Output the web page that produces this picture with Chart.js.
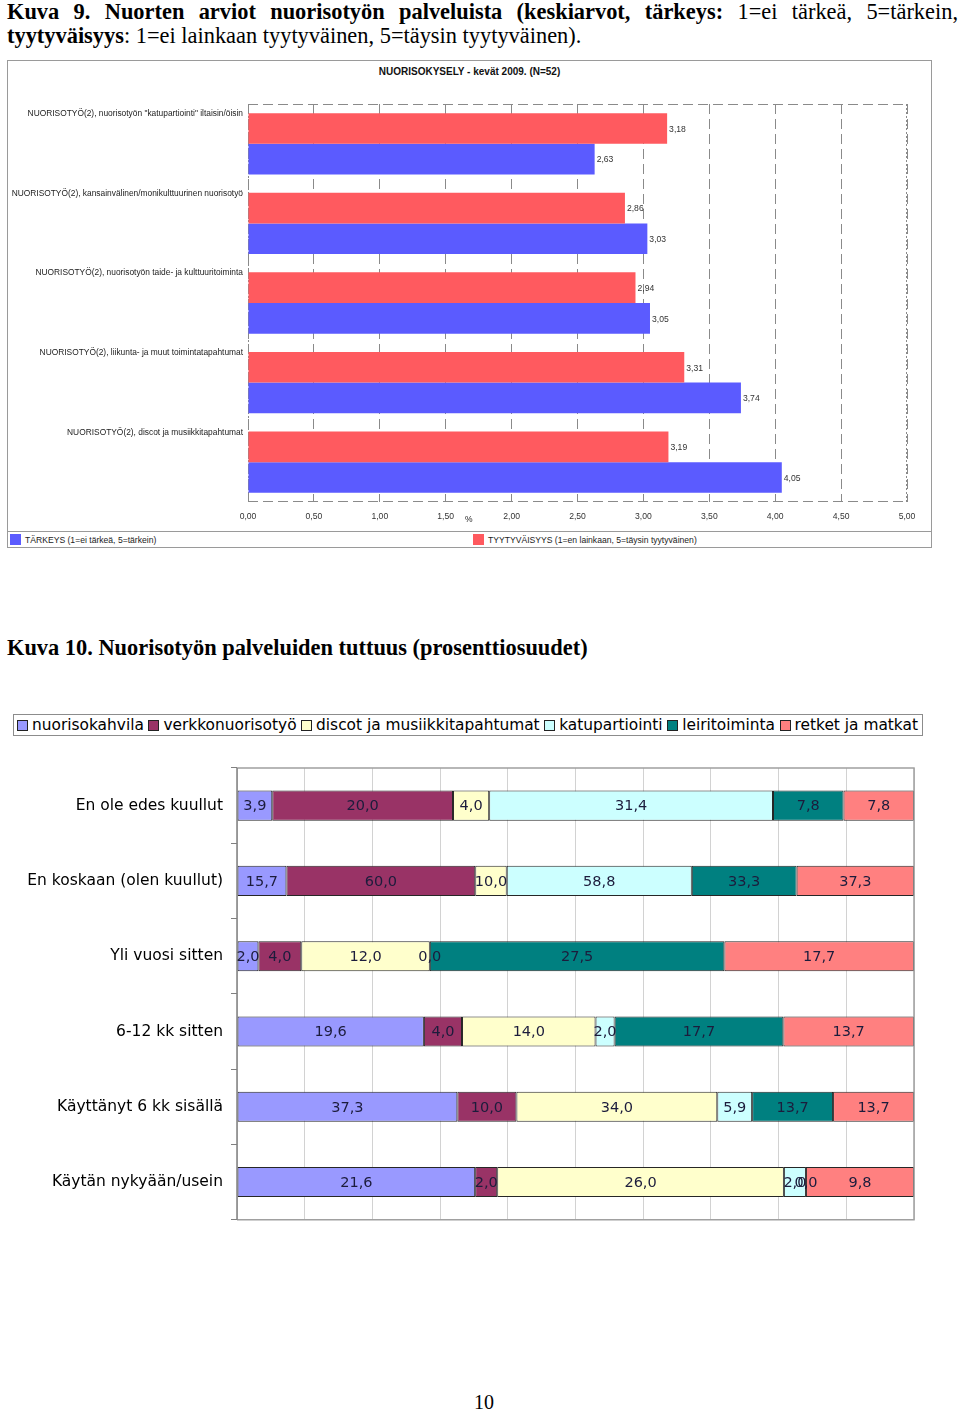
<!DOCTYPE html>
<html><head><meta charset="utf-8">
<script src="https://cdn.jsdelivr.net/npm/chart.js@4.4.1/dist/chart.umd.min.js"></script>
<style>
body{margin:0;background:#fff;}
#page{position:relative;width:960px;height:1412px;overflow:hidden;background:#fff;}
.serif{font-family:'Liberation Serif','Times New Roman',serif;font-size:22.4px;color:#000;}
.narrow{font-family:'Liberation Sans',Arial,sans-serif;color:#222;}
.abs{position:absolute;}
#leg2{position:absolute;left:13px;top:714px;width:910px;height:22px;box-sizing:border-box;border:1px solid #8c8c8c;display:flex;justify-content:space-between;align-items:center;padding:0 4px 0 3px;font-family:'DejaVu Sans',Verdana,sans-serif;font-size:15.4px;color:#000;}
#leg2 .it{display:flex;align-items:center;white-space:nowrap;}
#leg2 .sw{width:9px;height:9px;border:1px solid #222;margin-right:4px;}
</style></head><body>
<div id="page">
  <div class="serif abs" style="left:7px;top:0;width:951px;line-height:24px;text-align:justify;"><b>Kuva 9. Nuorten arviot nuorisotyön palveluista (keskiarvot, tärkeys:</b> 1=ei tärkeä, 5=tärkein, <b>tyytyväisyys</b>: 1=ei lainkaan tyytyväinen, 5=täysin tyytyväinen).</div>

  <div class="abs" style="left:7px;top:60px;width:925px;height:488px;box-sizing:border-box;border:1px solid #9a9a9a;"></div>
  <div class="abs narrow" style="left:7px;top:66px;width:925px;text-align:center;font-size:10px;font-weight:bold;color:#111;">NUORISOKYSELY - kevät 2009. (N=52)</div>
  <canvas id="c1" class="abs" width="923" height="470" style="left:8px;top:61px;"></canvas>
  <div class="abs narrow" style="left:465px;top:514px;font-size:8.5px;">%</div>
  <div class="abs" style="left:8px;top:531px;width:923px;border-top:1px solid #9a9a9a;"></div>
  <div id="leg1"></div>

  <div class="serif abs" style="left:7px;top:636px;line-height:24px;"><b>Kuva 10. Nuorisotyön palveluiden tuttuus (prosenttiosuudet)</b></div>
  <div id="leg2"></div>
  <canvas id="c2" class="abs" width="960" height="487" style="left:0;top:750px;"></canvas>

  <div class="serif abs" style="left:0;top:1390px;width:968px;text-align:center;line-height:24px;font-size:20px;">10</div>
</div>
<script>
// ---------- Chart 1 data ----------
const cats1 = [
  'NUORISOTYÖ(2), nuorisotyön "katupartiointi" iltaisin/öisin',
  'NUORISOTYÖ(2), kansainvälinen/monikulttuurinen nuorisotyö',
  'NUORISOTYÖ(2), nuorisotyön taide- ja kulttuuritoiminta',
  'NUORISOTYÖ(2), liikunta- ja muut toimintatapahtumat',
  'NUORISOTYÖ(2), discot ja musiikkitapahtumat'
];
const seriesNames1 = ['TYYTYVÄISYYS (1=en lainkaan, 5=täysin tyytyväinen)', 'TÄRKEYS (1=ei tärkeä, 5=tärkein)'];
const tyytyvaisyys = [3.18, 2.86, 2.94, 3.31, 3.19];
const tarkeys = [2.63, 3.03, 3.05, 3.74, 4.05];
const colors1 = ['#ff5a5f', '#5b5bff'];

// ---------- Chart 2 data ----------
const cats2 = ['En ole edes kuullut','En koskaan (olen kuullut)','Yli vuosi sitten','6-12 kk sitten','Käyttänyt 6 kk sisällä','Käytän nykyään/usein'];
const seriesNames2 = ['nuorisokahvila','verkkonuorisotyö','discot ja musiikkitapahtumat','katupartiointi','leiritoiminta','retket ja matkat'];
const nuorisokahvila   = [3.9, 15.7, 2.0, 19.6, 37.3, 21.6];
const verkkonuorisotyo = [20.0, 60.0, 4.0, 4.0, 10.0, 2.0];
const discot           = [4.0, 10.0, 12.0, 14.0, 34.0, 26.0];
const katupartiointi   = [31.4, 58.8, 0.0, 2.0, 5.9, 2.0];
const leiritoiminta    = [7.8, 33.3, 27.5, 17.7, 13.7, 0.0];
const retket           = [7.8, 37.3, 17.7, 13.7, 13.7, 9.8];
const colors2 = ['#9999ff','#993366','#ffffcc','#ccffff','#008080','#ff8080'];

const SMALL = "'Liberation Sans',Arial,sans-serif";
const VERD = "'DejaVu Sans',Verdana,sans-serif";

// ---------- legend 1 ----------
(function(){
  const leg = document.getElementById('leg1');
  const items = [{name:seriesNames1[1], color:colors1[1], x:10},{name:seriesNames1[0], color:colors1[0], x:473}];
  items.forEach(it=>{
    const sw = document.createElement('div');
    sw.className='abs'; sw.style.cssText=`left:${it.x}px;top:534px;width:11px;height:11px;background:${it.color};`;
    leg.appendChild(sw);
    const t = document.createElement('div');
    t.className='abs narrow'; t.style.cssText=`left:${it.x+15}px;top:534px;font-size:8.6px;line-height:12px;`;
    t.textContent = it.name; leg.appendChild(t);
  });
})();

// ---------- legend 2 ----------
(function(){
  const leg = document.getElementById('leg2');
  seriesNames2.forEach((n,i)=>{
    const it=document.createElement('div'); it.className='it';
    const sw=document.createElement('div'); sw.className='sw'; sw.style.background=colors2[i];
    const t=document.createElement('span'); t.textContent=n;
    it.appendChild(sw); it.appendChild(t); leg.appendChild(it);
  });
})();

const fmt = (v,d)=>v.toFixed(d).replace('.',',');

// ---------- Chart 1 ----------
const frame1 = {
  id:'frame1',
  beforeDatasetsDraw(chart){
    const {ctx, chartArea:a} = chart;
    ctx.save(); ctx.strokeStyle='#8a8a8a'; ctx.lineWidth=1;
    ctx.setLineDash([10,5]);
    ctx.beginPath(); ctx.moveTo(a.left,a.top+0.5); ctx.lineTo(a.right,a.top+0.5);
    ctx.moveTo(a.left,a.bottom-0.5); ctx.lineTo(a.right,a.bottom-0.5); ctx.stroke();
    ctx.setLineDash([2,2]);
    ctx.beginPath(); ctx.moveTo(a.left+0.5,a.top); ctx.lineTo(a.left+0.5,a.bottom);
    ctx.moveTo(a.right-0.5,a.top); ctx.lineTo(a.right-0.5,a.bottom); ctx.stroke();
    ctx.restore();
  }
};
const labels1 = {
  id:'labels1',
  afterDatasetsDraw(chart){
    const ctx = chart.ctx; ctx.save();
    ctx.font = '8.6px '+SMALL; ctx.fillStyle='#333'; ctx.textBaseline='middle'; ctx.textAlign='left';
    chart.data.datasets.forEach((ds,i)=>{
      chart.getDatasetMeta(i).data.forEach((el,j)=>{ ctx.fillText(fmt(ds.data[j],2), el.x+2, el.y+1); });
    });
    ctx.restore();
  }
};
new Chart(document.getElementById('c1'), {
  type:'bar',
  data:{ labels:cats1, datasets:[
    {label:seriesNames1[0], data:tyytyvaisyys, backgroundColor:colors1[0]},
    {label:seriesNames1[1], data:tarkeys, backgroundColor:colors1[1]}
  ]},
  options:{
    indexAxis:'y', responsive:false, animation:false,
    categoryPercentage:0.77, barPercentage:1.0,
    layout:{padding:{top:43,right:24,bottom:0,left:0}},
    plugins:{legend:{display:false}, tooltip:{enabled:false}},
    scales:{
      x:{min:0,max:5,
        afterFit(s){ s.height=29; },
        ticks:{stepSize:0.5, padding:9, color:'#333', font:{family:SMALL,size:8.6}, callback:v=>fmt(v,2)},
        grid:{color:'#8a8a8a', drawTicks:false, lineWidth:1},
        border:{display:false, dash:[10,5]}
      },
      y:{
        afterFit(s){ s.width=240; },
        ticks:{labelOffset:-30, padding:5, color:'#222', font:{family:SMALL,size:8.4}},
        grid:{display:false, drawTicks:false},
        border:{display:false}
      }
    }
  },
  plugins:[frame1, labels1]
});

// ---------- Chart 2 ----------
const raw2 = [nuorisokahvila, verkkonuorisotyo, discot, katupartiointi, leiritoiminta, retket];
const rowSums = cats2.map((_,j)=>raw2.reduce((s,arr)=>s+arr[j],0));
const frame2 = {
  id:'frame2',
  afterDatasetsDraw(chart){
    const {ctx, chartArea:a} = chart;
    ctx.save(); ctx.strokeStyle='#a0a0a0'; ctx.lineWidth=1.5;
    ctx.beginPath(); ctx.moveTo(a.left,a.top); ctx.lineTo(a.right,a.top); ctx.lineTo(a.right,a.bottom); ctx.lineTo(a.left,a.bottom); ctx.stroke();
    ctx.strokeStyle='#808080'; ctx.beginPath(); ctx.moveTo(a.left,a.top); ctx.lineTo(a.left,a.bottom); ctx.stroke();
    ctx.restore();
  }
};
const labels2 = {
  id:'labels2',
  afterDatasetsDraw(chart){
    const ctx = chart.ctx; ctx.save();
    ctx.font='14.5px '+VERD; ctx.fillStyle='#1c1c3c'; ctx.textBaseline='middle'; ctx.textAlign='center';
    raw2.forEach((arr,i)=>{
      chart.getDatasetMeta(i).data.forEach((el,j)=>{ ctx.fillText(fmt(arr[j],1), (el.x+el.base)/2, el.y+1); });
    });
    ctx.restore();
  }
};
new Chart(document.getElementById('c2'), {
  type:'bar',
  data:{ labels:cats2, datasets: raw2.map((arr,i)=>({
    label:seriesNames2[i], data:arr.map((v,j)=>v/rowSums[j]*100),
    backgroundColor:colors2[i], borderColor:'#262626', borderWidth:1, borderSkipped:false
  }))},
  options:{
    indexAxis:'y', responsive:false, animation:false,
    categoryPercentage:0.4, barPercentage:1.0,
    layout:{padding:{top:18,right:46,bottom:0,left:0}},
    plugins:{legend:{display:false}, tooltip:{enabled:false}},
    scales:{
      x:{stacked:true, min:0, max:100,
        afterFit(s){ s.height=0; },
        ticks:{display:false, stepSize:10},
        grid:{color:'#d2d2d2', drawTicks:false, lineWidth:1},
        border:{display:false}
      },
      y:{stacked:true,
        afterFit(s){ s.width=237; },
        ticks:{padding:8, color:'#000', font:{family:VERD,size:15.5}},
        grid:{drawOnChartArea:false, drawTicks:true, tickLength:6, color:'#808080'},
        border:{display:false}
      }
    }
  },
  plugins:[frame2, labels2]
});
</script>
</body></html>
